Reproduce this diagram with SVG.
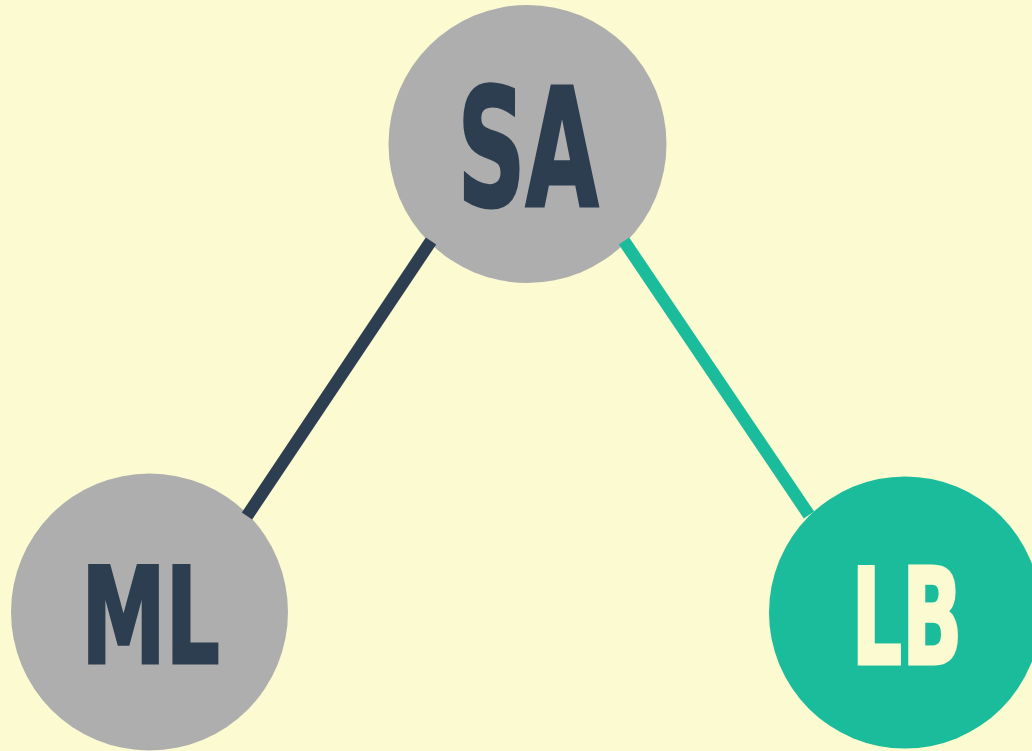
<svg xmlns="http://www.w3.org/2000/svg" width="1032" height="751" viewBox="0 0 1032 751">
  <style>
    .bg { fill: #FCFAD0; }
    .node-gray { fill: #AEAEAE; }
    .node-green { fill: #1ABC9C; }
    .label { font-family: "Liberation Sans Narrow", "DejaVu Sans Condensed", "Liberation Sans", sans-serif; font-weight: bold; text-anchor: middle; stroke-width: 3; stroke-linejoin: miter; }
    .label-dark { fill: #2C3E50; stroke: #2C3E50; }
    .label-light { fill: #FCFAD0; stroke: #FCFAD0; }
    .edge { fill: none; stroke-width: 12.5; stroke-linecap: butt; }
    .edge-dark { stroke: #2C3E50; }
    .edge-green { stroke: #1ABC9C; }
  </style>
  <rect class="bg" x="0" y="0" width="1032" height="751"/>

  <g id="node-SA">
    <circle class="node-gray" cx="527.5" cy="144" r="139"/>
    <text class="label label-dark" x="528" y="205.5" font-size="164" textLength="141" lengthAdjust="spacingAndGlyphs">SA</text>
  </g>
  <g id="node-ML">
    <circle class="node-gray" cx="149.5" cy="612" r="138.5"/>
    <text class="label label-dark" x="150.5" y="662.5" font-size="133" textLength="138" lengthAdjust="spacingAndGlyphs">ML</text>
  </g>
  <g id="node-LB">
    <circle class="node-green" cx="905" cy="612.5" r="136"/>
    <text class="label label-light" x="907" y="663.5" font-size="133" textLength="111" lengthAdjust="spacingAndGlyphs">LB</text>
  </g>

  <g id="connectors">
    <line class="edge edge-dark" x1="247" y1="516" x2="431" y2="241"/>
    <line class="edge edge-green" x1="624" y1="241" x2="809" y2="515"/>
  </g>
</svg>
